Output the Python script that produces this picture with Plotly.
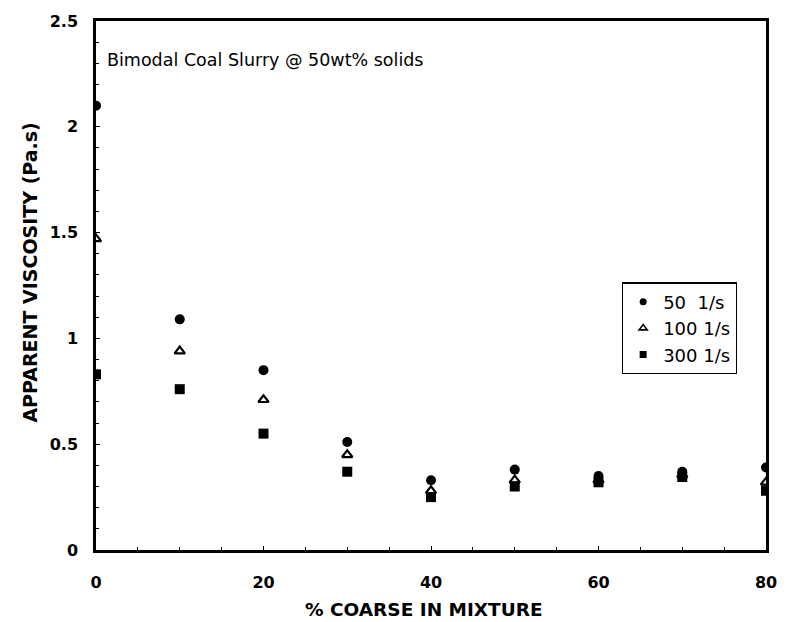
import plotly.graph_objects as go

coarse_pct = [0, 10, 20, 30, 40, 50, 60, 70, 80]
visc_50 = [2.10, 1.09, 0.85, 0.51, 0.33, 0.38, 0.35, 0.37, 0.39]
visc_100 = [1.47, 0.94, 0.71, 0.45, 0.28, 0.33, 0.33, 0.355, 0.32]
visc_300 = [0.83, 0.76, 0.55, 0.37, 0.25, 0.30, 0.32, 0.345, 0.28]
series_names = ["50  1/s", "100 1/s", "300 1/s"]
x_ticks = [0, 20, 40, 60, 80]
y_ticks = [0, 0.5, 1, 1.5, 2, 2.5]
y_tick_text = ["0", "0.5", "1", "1.5", "2", "2.5"]

FONT = "DejaVu Sans, Liberation Sans, sans-serif"

symbols = [("circle", None), ("triangle-up-open", 2.2), ("square", None)]
series = [visc_50, visc_100, visc_300]

fig = go.Figure()
for (sym, lw), name, vals in zip(symbols, series_names, series):
    mk = dict(symbol=sym, size=10 if lw is None else 9, color="black")
    if lw is not None:
        mk["line"] = dict(width=lw, color="black")
    fig.add_trace(go.Scatter(x=coarse_pct, y=vals, mode="markers", name=name,
                             marker=mk, showlegend=False))
    # legend-only entry with the smaller legend symbol
    lmk = dict(symbol=sym, size=7, color="black")
    if lw is not None:
        lmk["line"] = dict(width=1.6, color="black")
    fig.add_trace(go.Scatter(x=[None], y=[None], mode="markers", name=name,
                             marker=lmk, showlegend=True))

fig.update_layout(
    width=789, height=622,
    margin=dict(l=96, r=16, t=18, b=72),
    paper_bgcolor="white", plot_bgcolor="white",
    font=dict(family=FONT, color="black", size=16),
    legend=dict(x=0.785, y=0.506, xanchor="left", yanchor="top",
                bordercolor="black", borderwidth=1.2, bgcolor="white",
                font=dict(size=18, family=FONT), itemwidth=30,
                tracegroupgap=0),
    xaxis=dict(range=[0, 80], tickvals=x_ticks, ticktext=[str(v) for v in x_ticks],
               showgrid=False, zeroline=False, showline=True, linecolor="black",
               linewidth=2.5, mirror=True, ticks="inside", ticklen=4, tickcolor="black",
               ticklabelstandoff=16,
               minor=dict(dtick=5, ticks="inside", ticklen=3, tickcolor="black"),
               tickfont=dict(size=16, family=FONT, weight="bold")),
    yaxis=dict(range=[0, 2.5], tickvals=y_ticks, ticktext=y_tick_text,
               showgrid=False, zeroline=False, showline=True, linecolor="black",
               linewidth=2.5, mirror=True, ticks="inside", ticklen=4, tickcolor="black",
               ticklabelstandoff=12,
               minor=dict(dtick=0.1, ticks="inside", ticklen=3, tickcolor="black"),
               tickfont=dict(size=16, family=FONT, weight="bold")),
    annotations=[
        dict(text="Bimodal Coal Slurry @ 50wt% solids", xref="paper", yref="paper",
             x=0.013, y=0.927, xanchor="left", yanchor="middle", showarrow=False,
             font=dict(size=17.5, family=FONT)),
        dict(text="<b>APPARENT VISCOSITY (Pa.s)</b>", xref="paper", yref="paper",
             x=-0.098, y=0.525, xanchor="center", yanchor="middle", textangle=-90,
             showarrow=False, font=dict(size=19, family=FONT)),
        dict(text="<b>% COARSE IN MIXTURE</b>", xref="paper", yref="paper",
             x=0.49, y=-0.113, xanchor="center", yanchor="middle",
             showarrow=False, font=dict(size=18.5, family=FONT)),
    ],
)

fig.write_html("out.html")
